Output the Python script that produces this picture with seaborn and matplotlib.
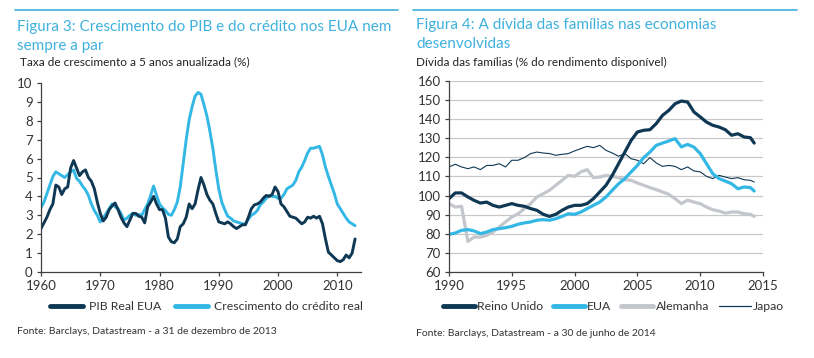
import numpy as np
import pandas as pd
import matplotlib
matplotlib.use("Agg")
import matplotlib.pyplot as plt
import seaborn as sns
from matplotlib.lines import Line2D

sns.set_theme(style="white")
plt.rcParams['font.family'] = ['Lato', 'DejaVu Sans']

# ---------------- Figure 3 data (semi-annual) ----------------
years3 = [1960 + 0.5 * i for i in range(107)]
pib_real = [2.3, 2.6, 2.9, 3.3, 3.6, 4.6, 4.5, 4.1, 4.4, 4.5, 5.5, 5.9, 5.5, 5.1, 5.3, 5.4,
            5.0, 4.8, 4.4, 3.7, 3.1, 2.7, 2.9, 3.3, 3.5, 3.65, 3.3, 2.9, 2.6, 2.4, 2.75, 3.1,
            3.1, 2.95, 2.9, 2.6, 3.45, 3.7, 4.0, 3.6, 3.3, 3.3, 2.85, 1.85, 1.6, 1.55, 1.75, 2.4,
            2.55, 2.9, 3.6, 3.35, 3.6, 4.35, 5.0, 4.6, 4.1, 3.8, 3.6, 3.1, 2.65, 2.6, 2.55, 2.65,
            2.55, 2.4, 2.3, 2.4, 2.5, 2.5, 2.9, 3.35, 3.55, 3.6, 3.7, 3.9, 4.05, 4.0, 4.1, 4.5,
            4.25, 3.6, 3.45, 3.2, 2.95, 2.9, 2.85, 2.7, 2.55, 2.65, 2.9, 2.85, 2.95, 2.85, 2.95, 2.55,
            1.75, 1.05, 0.9, 0.75, 0.6, 0.55, 0.65, 0.9, 0.75, 1.0, 1.75]
credito_real = [3.4, 3.7, 4.15, 4.6, 5.05, 5.3, 5.2, 5.1, 5.0, 5.15, 5.3, 5.4, 4.95, 4.8, 4.55, 4.35,
                4.05, 3.6, 3.25, 3.0, 2.65, 2.85, 3.1, 3.35, 3.6, 3.45, 3.35, 3.1, 2.75, 2.85, 3.0, 3.1,
                3.0, 3.05, 3.0, 3.3, 3.6, 4.05, 4.55, 4.05, 3.6, 3.4, 3.25, 3.05, 3.0, 3.3, 3.7, 4.5,
                5.75, 7.0, 8.05, 8.75, 9.3, 9.5, 9.4, 8.85, 8.25, 7.45, 6.55, 5.4, 4.4, 3.7, 3.3, 2.95,
                2.85, 2.7, 2.65, 2.6, 2.55, 2.55, 2.8, 3.0, 3.1, 3.25, 3.55, 3.7, 3.9, 4.05, 4.0, 4.0,
                3.9, 3.9, 4.1, 4.4, 4.5, 4.6, 4.85, 5.3, 5.55, 5.9, 6.3, 6.55, 6.55, 6.6, 6.65, 6.2,
                5.55, 5.05, 4.6, 4.15, 3.6, 3.35, 3.1, 2.85, 2.65, 2.55, 2.45]

# ---------------- Figure 4 data (semi-annual) ----------------
years4 = [1990 + 0.5 * i for i in range(49)]
reino_unido = [98.4, 101.4, 101.4, 99.3, 97.5, 96.1, 96.6, 94.9, 94.0, 94.9, 95.8, 94.9, 94.4, 93.2,
               92.3, 90.2, 89.1, 90.2, 92.3, 94.0, 94.9, 94.9, 95.8, 98.4, 101.9, 105.4, 110.6, 116.7,
               122.8, 128.9, 133.3, 134.2, 134.5, 137.7, 142.0, 144.6, 148.1, 149.5, 149.0, 143.8, 141.2,
               138.5, 136.8, 135.9, 134.5, 131.6, 132.4, 130.7, 130.3]
eua = [79.7, 80.4, 81.8, 82.2, 81.5, 80.1, 80.9, 82.2, 82.7, 83.2, 83.9, 85.0, 85.7, 86.2, 87.1, 87.4,
       87.1, 87.9, 89.1, 90.5, 90.2, 91.4, 93.2, 94.9, 96.6, 99.3, 102.8, 106.2, 108.9, 112.4, 115.8,
       119.9, 122.8, 126.3, 127.5, 128.6, 129.8, 125.5, 126.8, 125.4, 122.0, 116.7, 111.5, 108.9, 107.6,
       106.2, 103.6, 104.5, 104.2]
alemanha = [95.8, 94.0, 94.4, 76.0, 78.3, 78.3, 79.2, 80.9, 83.6, 86.2, 88.8, 90.5, 93.2, 95.8, 99.3,
            101.0, 102.8, 105.4, 108.0, 110.6, 110.1, 112.4, 113.6, 109.4, 109.7, 110.6, 110.1, 109.4,
            108.3, 108.0, 106.6, 105.4, 104.2, 103.1, 101.9, 100.7, 98.4, 95.8, 97.6, 96.6, 95.8, 94.0,
            92.6, 91.9, 90.8, 91.4, 91.4, 90.5, 90.2]
japao = [115.0, 116.4, 115.0, 114.1, 115.0, 113.6, 115.8, 115.8, 116.7, 115.0, 118.5, 118.5, 119.9,
         122.0, 122.8, 122.3, 122.0, 121.1, 121.6, 122.0, 123.4, 124.6, 125.8, 125.1, 126.3, 123.7,
         122.3, 120.6, 122.0, 119.3, 118.5, 116.7, 119.9, 117.1, 115.3, 115.8, 115.3, 113.6, 115.0,
         112.9, 112.4, 110.1, 108.9, 110.6, 109.7, 108.9, 109.4, 108.3, 108.0]
# last points (mid-2014)
last_year4 = 2014.3
last_vals4 = {"Reino Unido": 127.5, "EUA": 102.4, "Alemanha": 89.1, "Japao": 107.1}

DARK = "#0f3854"
LIGHT = "#33b8e6"
GREY = "#c3c7cc"
TITLE = "#3fb1de"
AXC = "#404040"

fig = plt.figure(figsize=(8.14, 3.58), dpi=100)
W, H = 814, 358


def fx(px):
    return px / W


def fy(py):
    return 1 - py / H


# --------------- left panel ---------------
ax1 = fig.add_axes([fx(41), fy(272), 320 / W, 189 / H])
df3 = pd.DataFrame({"ano": years3, "PIB Real EUA": pib_real, "Crescimento do crédito real": credito_real})
sns.lineplot(data=df3, x="ano", y="Crescimento do crédito real", ax=ax1, color=LIGHT, lw=2.1,
             solid_capstyle="round")
sns.lineplot(data=df3, x="ano", y="PIB Real EUA", ax=ax1, color=DARK, lw=2.1, solid_capstyle="round")
ax1.set_xlim(1960, 2014)
ax1.set_ylim(0, 10)
ax1.set_yticks(range(0, 11))
ax1.set_xticks(range(1960, 2011, 10))
ax1.set_xlabel("")
ax1.set_ylabel("")

# --------------- right panel ---------------
ax2 = fig.add_axes([fx(449), fy(272), 314 / W, 191 / H])
df4 = pd.DataFrame({"ano": years4 + [last_year4],
                    "Reino Unido": reino_unido + [last_vals4["Reino Unido"]],
                    "EUA": eua + [last_vals4["EUA"]],
                    "Alemanha": alemanha + [last_vals4["Alemanha"]],
                    "Japao": japao + [last_vals4["Japao"]]})
ax2.yaxis.grid(True, color="#c8c8c8", lw=0.9)
ax2.set_axisbelow(True)
sns.lineplot(data=df4, x="ano", y="Alemanha", ax=ax2, color=GREY, lw=2.3)
sns.lineplot(data=df4, x="ano", y="Japao", ax=ax2, color=DARK, lw=0.8)
sns.lineplot(data=df4, x="ano", y="EUA", ax=ax2, color=LIGHT, lw=2.3)
sns.lineplot(data=df4, x="ano", y="Reino Unido", ax=ax2, color=DARK, lw=2.3)
ax2.set_xlim(1990, 2015)
ax2.set_ylim(60, 160)
ax2.set_yticks(range(60, 161, 10))
ax2.set_xticks(range(1990, 2016, 5))
ax2.set_xlabel("")
ax2.set_ylabel("")

for ax in (ax1, ax2):
    for s in ("top", "right"):
        ax.spines[s].set_visible(False)
    for s in ("left", "bottom"):
        ax.spines[s].set_color(AXC)
        ax.spines[s].set_linewidth(0.9)
    ax.tick_params(axis="both", which="both", direction="out", length=3, width=0.9, color=AXC,
                   labelsize=9.5, labelcolor="#333333", pad=3, left=True, bottom=True)

# --------------- header rules & titles ---------------
fig.add_artist(Line2D([fx(15), fx(398)], [fy(10), fy(10)], color=TITLE, lw=1.2))
fig.add_artist(Line2D([fx(413), fx(797)], [fy(10), fy(10)], color=TITLE, lw=1.2))

TKW = dict(color=TITLE, fontsize=11, va="center", ha="left", fontweight="normal")
fig.text(fx(17), fy(27), "Figura 3: Crescimento do PIB e do crédito nos EUA nem", **TKW)
fig.text(fx(17), fy(46), "sempre a par", **TKW)
fig.text(fx(20), fy(62), "Taxa de crescimento a 5 anos anualizada (%)", color="#222222",
         fontsize=8.5, va="center", ha="left")

fig.text(fx(416), fy(25), "Figura 4: A dívida das famílias nas economias", **TKW)
fig.text(fx(416), fy(44), "desenvolvidas", **TKW)
fig.text(fx(416), fy(62), "Dívida das famílias (% do rendimento disponível)", color="#222222",
         fontsize=8.5, va="center", ha="left")

# --------------- legends ---------------
h1 = [Line2D([], [], color=DARK, lw=3.5, solid_capstyle="round"),
      Line2D([], [], color=LIGHT, lw=3.5, solid_capstyle="round")]
fig.legend(h1, ["PIB Real EUA", "Crescimento do crédito real"], loc="center left",
           bbox_to_anchor=(fx(50), fy(307)), ncol=2, frameon=False, fontsize=8.8,
           handlelength=2.7, handletextpad=0.5, columnspacing=1.1, borderpad=0, borderaxespad=0,
           labelcolor="#333333")

h2 = [Line2D([], [], color=DARK, lw=3.5, solid_capstyle="round"),
      Line2D([], [], color=LIGHT, lw=3.5, solid_capstyle="round"),
      Line2D([], [], color=GREY, lw=3.5, solid_capstyle="round"),
      Line2D([], [], color=DARK, lw=0.9)]
fig.legend(h2, ["Reino Unido", "EUA", "Alemanha", "Japao"], loc="center left",
           bbox_to_anchor=(fx(443), fy(307)), ncol=4, frameon=False, fontsize=8.8,
           handlelength=2.6, handletextpad=0.2, columnspacing=0.8, borderpad=0, borderaxespad=0,
           labelcolor="#333333")

fig.text(fx(17), fy(331), "Fonte: Barclays, Datastream - a 31 de dezembro de 2013", color="#333333",
         fontsize=7.5, va="center", ha="left")
fig.text(fx(416), fy(333), "Fonte: Barclays, Datastream - a 30 de junho de 2014", color="#333333",
         fontsize=7.5, va="center", ha="left")

fig.savefig("out.png", dpi=100)
